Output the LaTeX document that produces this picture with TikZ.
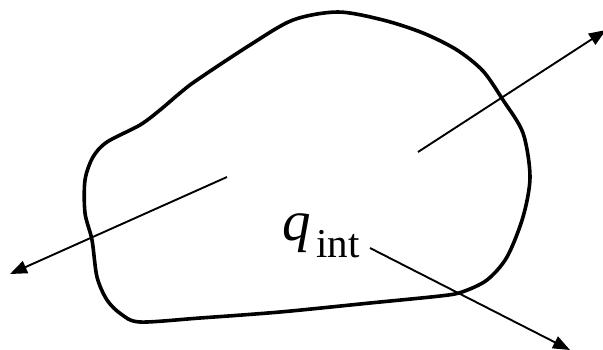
\documentclass[tikz,border=0pt]{standalone}
\usepackage{fontspec}
\setmainfont{Liberation Serif}
\usetikzlibrary{arrows.meta}
\begin{document}
\begin{tikzpicture}[x=1pt,y=-1pt,
  blob/.style={line width=3.6pt, line join=round},
  vec/.style={line width=1.9pt, -{Triangle[length=17pt,width=13pt]}}]
\useasboundingbox (0,0) rectangle (603,349);
\draw[blob] plot[smooth cycle, tension=0.5] coordinates {
 (85,180) (85,213) (92,240) (97,277) (107,300) (121,314) (140,322)
 (200,318) (280,312) (370,303) (440,296) (462,292)
 (487,280) (507,257) (523,217) (530,177) (523,133) (503,100) (483,71)
 (457,50) (423,33) (383,20) (338,12) (293,20) (250,45) (197,80) (180,93)
 (160,110) (140,125) (107,142) (93,157)};
\coordinate (a1s) at (227,177);
\coordinate (a1e) at (10,274);
\coordinate (a2s) at (418,152);
\coordinate (a2e) at (606,30);
\coordinate (a3s) at (370,248);
\coordinate (a3e) at (570,350);
\draw[vec] (a1s) -- (a1e);
\draw[vec] (a2s) -- (a2e);
\draw[vec] (a3s) -- (a3e);
\node[anchor=base west, inner sep=0pt, font=\fontsize{57}{57}\selectfont\itshape] (q) at (282,240) {q};
\node[anchor=base west, inner sep=0pt, font=\fontsize{41}{41}\selectfont] (int) at (316,257) {int};
\end{tikzpicture}
\end{document}
